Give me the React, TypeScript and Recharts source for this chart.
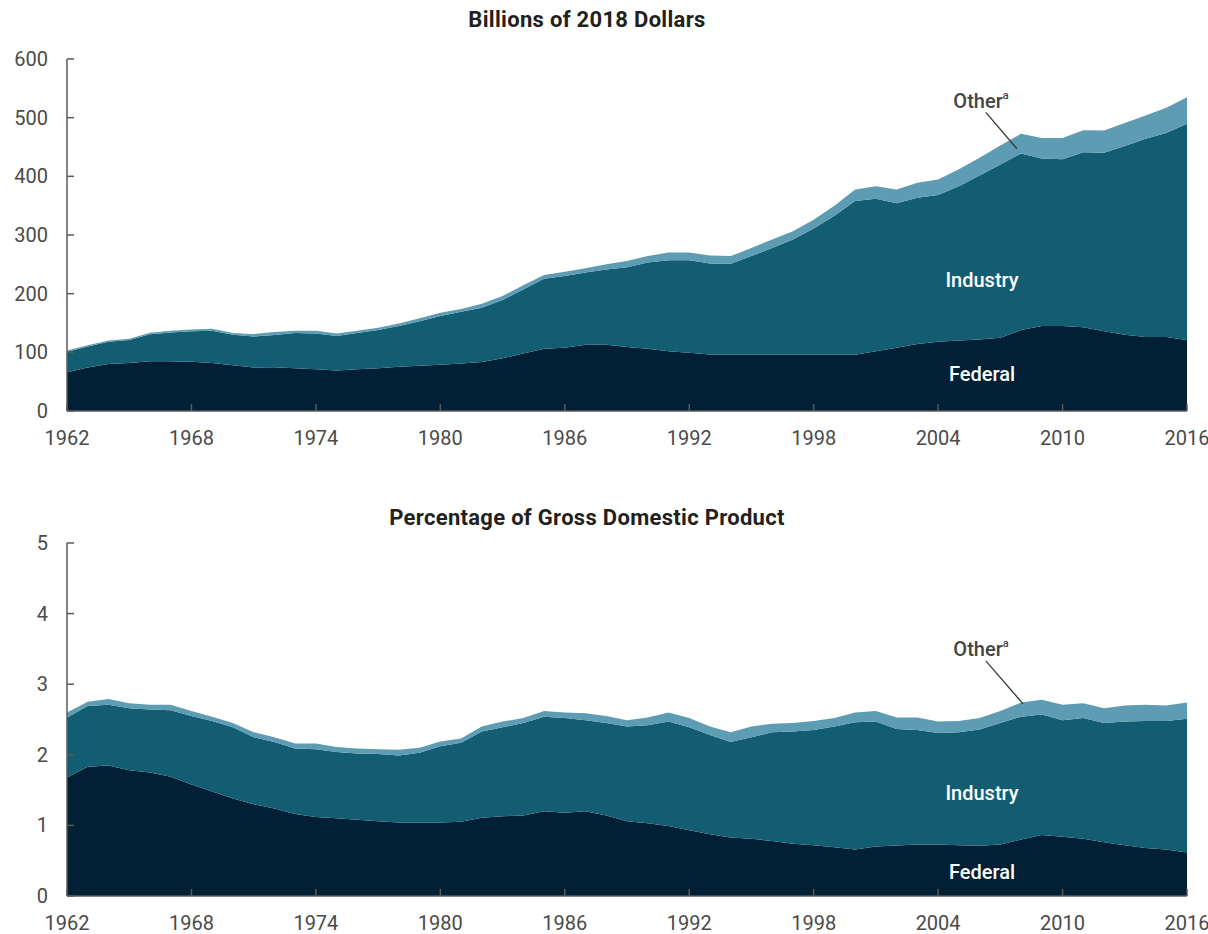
import React from "react";
import {
  AreaChart,
  Area,
  XAxis,
  YAxis,
  ReferenceLine,
} from "recharts";

// years on the x axis
const years = [
  1962, 1963, 1964, 1965, 1966, 1967, 1968, 1969, 1970, 1971,
  1972, 1973, 1974, 1975, 1976, 1977, 1978, 1979, 1980, 1981,
  1982, 1983, 1984, 1985, 1986, 1987, 1988, 1989, 1990, 1991,
  1992, 1993, 1994, 1995, 1996, 1997, 1998, 1999, 2000, 2001,
  2002, 2003, 2004, 2005, 2006, 2007, 2008, 2009, 2010, 2011,
  2012, 2013, 2014, 2015, 2016,
];

// billions of 2018 dollars
const federalBillions = [
  66, 74, 80, 82, 85, 85, 84, 82, 78, 74,
  74.5, 73, 71, 69, 71, 73, 75.5, 77, 79, 81,
  83.5, 90, 98, 106, 108, 113, 113, 109, 106, 102,
  99.5, 96.5, 96, 96, 96, 96, 96, 96, 96, 102,
  108, 114, 118, 120, 122, 125, 138, 145, 145, 142.6,
  136, 130, 126, 126, 121,
];
const industryBillions = [
  35, 36, 38, 39, 46, 49, 52, 55, 52, 53,
  55, 60, 61, 59, 62, 65, 69.5, 76, 83, 88,
  92.5, 99, 109, 119.5, 122, 123, 128, 136, 147, 155,
  157.5, 155, 155, 168, 182, 196.5, 215, 237, 262, 260,
  246, 249.5, 250, 263, 279.5, 295, 301, 285.5, 284, 298.4,
  304, 321.5, 338, 348, 368.6,
];
const otherBillions = [
  2, 2, 2, 2, 2.5, 3, 3, 3, 3, 4,
  5, 4, 5, 4, 4, 4, 4, 5, 5.5, 5,
  7, 7, 7.5, 6.5, 7.5, 7.5, 9, 10.5, 11, 13,
  13, 13.5, 13, 14, 14.5, 14, 15, 17, 19.5, 21,
  23.5, 25.5, 26.5, 29, 30, 32.5, 33.5, 35, 36.5, 37.7,
  38, 39.5, 39.7, 43, 45.4,
];

// percentage of GDP
const federalPct = [
  1.68, 1.83, 1.85, 1.78, 1.75, 1.69, 1.58, 1.48, 1.38, 1.3,
  1.24, 1.16, 1.12, 1.1, 1.08, 1.06, 1.04, 1.04, 1.04, 1.05,
  1.11, 1.13, 1.14, 1.2, 1.18, 1.2, 1.14, 1.06, 1.03, 0.99,
  0.93, 0.875, 0.83, 0.81, 0.78, 0.74, 0.72, 0.69, 0.66, 0.7,
  0.715, 0.73, 0.73, 0.72, 0.71, 0.73, 0.8, 0.865, 0.84, 0.81,
  0.76, 0.72, 0.68, 0.66, 0.615,
];
const industryPct = [
  0.85, 0.86, 0.86, 0.88, 0.89, 0.94, 0.97, 1.0, 1.01, 0.95,
  0.94, 0.93, 0.96, 0.94, 0.94, 0.95, 0.95, 0.99, 1.08, 1.12,
  1.22, 1.26, 1.31, 1.34, 1.34, 1.29, 1.31, 1.34, 1.39, 1.48,
  1.46, 1.405, 1.35, 1.44, 1.54, 1.59, 1.63, 1.71, 1.8, 1.77,
  1.65, 1.62, 1.58, 1.6, 1.65, 1.72, 1.74, 1.705, 1.65, 1.71,
  1.69, 1.75, 1.8, 1.82, 1.895,
];
const otherPct = [
  0.07, 0.06, 0.08, 0.07, 0.07, 0.08, 0.07, 0.06, 0.06, 0.07,
  0.07, 0.07, 0.08, 0.07, 0.07, 0.07, 0.08, 0.07, 0.07, 0.06,
  0.07, 0.08, 0.07, 0.08, 0.08, 0.1, 0.1, 0.09, 0.11, 0.13,
  0.13, 0.12, 0.14, 0.15, 0.12, 0.12, 0.13, 0.12, 0.14, 0.15,
  0.165, 0.18, 0.16, 0.16, 0.16, 0.17, 0.2, 0.21, 0.22, 0.21,
  0.21, 0.23, 0.23, 0.22, 0.23,
];

const yearTicks = [1962, 1968, 1974, 1980, 1986, 1992, 1998, 2004, 2010, 2016];
const billionTicks = [0, 100, 200, 300, 400, 500, 600];
const pctTicks = [0, 1, 2, 3, 4, 5];

const C_FEDERAL = "#022035";
const C_INDUSTRY = "#135d72";
const C_OTHER = "#5d9cb2";
const AXIS = "#5a5a5a";
const TICK_TEXT = "#4a4a4a";
const FONT = "Roboto, 'Open Sans', sans-serif";

const billionsData = years.map((year, i) => ({
  year,
  federal: federalBillions[i],
  industry: industryBillions[i],
  other: otherBillions[i],
}));

const pctData = years.map((year, i) => ({
  year,
  federal: federalPct[i],
  industry: industryPct[i],
  other: otherPct[i],
}));

function XTick({ x, y, payload }: any) {
  return (
    <g>
      <line x1={x} x2={x} y1={y} y2={y - 7} stroke={AXIS} strokeWidth={1.5} />
      <text
        x={x}
        y={y + 34}
        textAnchor="middle"
        fill={TICK_TEXT}
        fontSize={20}
        fontFamily={FONT}
      >
        {payload.value}
      </text>
    </g>
  );
}

function YTick({ x, y, payload }: any) {
  return (
    <g>
      <line x1={x} x2={x + 7} y1={y} y2={y} stroke={AXIS} strokeWidth={1.5} />
      <text
        x={x - 19}
        y={y + 7}
        textAnchor="end"
        fill={TICK_TEXT}
        fontSize={20}
        fontFamily={FONT}
      >
        {payload.value}
      </text>
    </g>
  );
}

function Title({ top, children }: { top: number; children: React.ReactNode }) {
  return (
    <div
      style={{
        position: "absolute",
        left: 587,
        top,
        transform: "translate(-50%, -50%)",
        fontFamily: FONT,
        fontWeight: 700,
        fontSize: 22,
        letterSpacing: 0.3,
        color: "#231f20",
        whiteSpace: "nowrap",
        lineHeight: 1,
      }}
    >
      {children}
    </div>
  );
}

function SeriesLabel({
  left,
  top,
  color,
  children,
}: {
  left: number;
  top: number;
  color: string;
  children: React.ReactNode;
}) {
  return (
    <div
      style={{
        position: "absolute",
        left,
        top,
        transform: "translate(-50%, -50%)",
        fontFamily: FONT,
        fontWeight: 500,
        fontSize: 20,
        color,
        whiteSpace: "nowrap",
        lineHeight: 1,
      }}
    >
      {children}
    </div>
  );
}

function OtherText() {
  return (
    <>
      Other
      <span style={{ fontSize: 11, verticalAlign: "top", position: "relative", top: -1 }}>a</span>
    </>
  );
}

function StackedAreas() {
  return (
    <>
      <Area
        type="linear"
        dataKey="federal"
        stackId="1"
        stroke="none"
        fill={C_FEDERAL}
        fillOpacity={1}
        dot={false}
        activeDot={false}
        isAnimationActive={false}
      />
      <Area
        type="linear"
        dataKey="industry"
        stackId="1"
        stroke="none"
        fill={C_INDUSTRY}
        fillOpacity={1}
        dot={false}
        activeDot={false}
        isAnimationActive={false}
      />
      <Area
        type="linear"
        dataKey="other"
        stackId="1"
        stroke="none"
        fill={C_OTHER}
        fillOpacity={1}
        dot={false}
        activeDot={false}
        isAnimationActive={false}
      />
    </>
  );
}

export default function App() {
  return (
    <div style={{ position: "relative", width: 1208, height: 934, background: "#fff" }}>
      <style>{"body{margin:0}"}</style>

      {/* top panel */}
      <div style={{ position: "absolute", left: 0, top: 0 }}>
        <AreaChart
          width={1208}
          height={470}
          data={billionsData}
          margin={{ top: 59, right: 21, bottom: 18, left: 0 }}
        >
          <XAxis
            dataKey="year"
            type="number"
            domain={[1962, 2016]}
            ticks={yearTicks}
            interval={0}
            height={41}
            tickSize={0}
            tickMargin={0}
            tickLine={false}
            axisLine={{ stroke: AXIS, strokeWidth: 1.5 }}
            tick={<XTick />}
          />
          <YAxis
            type="number"
            domain={[0, 600]}
            ticks={billionTicks}
            interval={0}
            width={67}
            tickSize={0}
            tickMargin={0}
            tickLine={false}
            axisLine={{ stroke: AXIS, strokeWidth: 1.5 }}
            tick={<YTick />}
          />
          {StackedAreas()}
          <ReferenceLine
            segment={[
              { x: 2006.3, y: 509 },
              { x: 2007.8, y: 447 },
            ]}
            stroke="#333"
            strokeWidth={1.2}
          />
        </AreaChart>
      </div>
      <Title top={20}>Billions of 2018 Dollars</Title>
      <SeriesLabel left={981} top={101} color="#444">
        <OtherText />
      </SeriesLabel>
      <SeriesLabel left={982} top={280} color="#fff">Industry</SeriesLabel>
      <SeriesLabel left={982} top={374} color="#fff">Federal</SeriesLabel>

      {/* bottom panel */}
      <div style={{ position: "absolute", left: 0, top: 470 }}>
        <AreaChart
          width={1208}
          height={464}
          data={pctData}
          margin={{ top: 73, right: 21, bottom: 8, left: 0 }}
        >
          <XAxis
            dataKey="year"
            type="number"
            domain={[1962, 2016]}
            ticks={yearTicks}
            interval={0}
            height={30}
            tickSize={0}
            tickMargin={0}
            tickLine={false}
            axisLine={{ stroke: AXIS, strokeWidth: 1.5 }}
            tick={<XTick />}
          />
          <YAxis
            type="number"
            domain={[0, 5]}
            ticks={pctTicks}
            interval={0}
            width={67}
            tickSize={0}
            tickMargin={0}
            tickLine={false}
            axisLine={{ stroke: AXIS, strokeWidth: 1.5 }}
            tick={<YTick />}
          />
          {StackedAreas()}
          <ReferenceLine
            segment={[
              { x: 2006.3, y: 3.33 },
              { x: 2008.1, y: 2.72 },
            ]}
            stroke="#333"
            strokeWidth={1.2}
          />
        </AreaChart>
      </div>
      <Title top={518}>Percentage of Gross Domestic Product</Title>
      <SeriesLabel left={981} top={649} color="#444">
        <OtherText />
      </SeriesLabel>
      <SeriesLabel left={982} top={793} color="#fff">Industry</SeriesLabel>
      <SeriesLabel left={982} top={872} color="#fff">Federal</SeriesLabel>
    </div>
  );
}
